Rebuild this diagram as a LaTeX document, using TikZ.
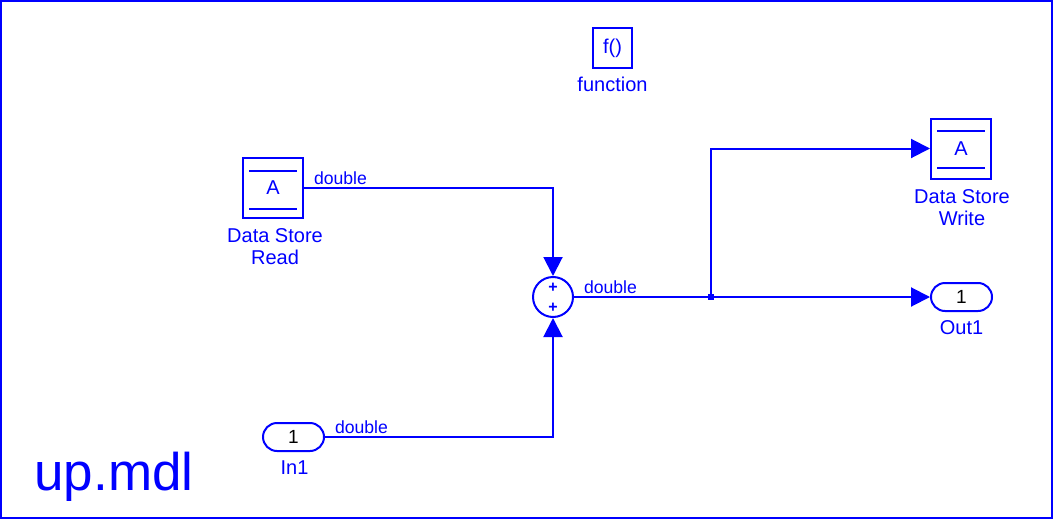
\documentclass[tikz,border=0pt]{standalone}
\usepackage{fontspec}
\setmainfont{Liberation Sans}
\usetikzlibrary{arrows.meta,positioning,shapes.misc,calc}
\definecolor{sblue}{RGB}{0,0,255}
\tikzset{
  blk/.style={rectangle, draw=sblue, line width=1pt, minimum width=30pt, minimum height=30pt, inner sep=0pt, font=\fontsize{10}{11}\selectfont, text=sblue},
  port/.style={rounded rectangle, draw=sblue, line width=1pt, minimum width=30.5pt, minimum height=14pt, inner sep=0pt, font=\fontsize{9.5}{10}\selectfont},
  sumblk/.style={circle, draw=sblue, line width=1pt, minimum size=20pt, inner sep=0pt},
  plus/.style={text=sblue, font=\fontsize{8}{8}\selectfont\bfseries, inner sep=0pt},
  blkname/.style={align=center, text=sblue, font=\fontsize{10}{11}\selectfont, inner sep=0pt},
  sig/.style={text=sblue, font=\fontsize{8.8}{10}\selectfont, anchor=south west, inner sep=1pt, xshift=3.5pt},
  wire/.style={draw=sblue, line width=1pt},
  arr/.style={-{Triangle[length=9.5pt,width=9.5pt]}, wire}
}
\begin{document}
\begin{tikzpicture}[x=0.5pt, y=-0.5pt]
\useasboundingbox (0,0) rectangle (1053,519);
\draw[wire] (1,1) rectangle (1052,518);

% blocks
\node[blk, minimum width=19.5pt, minimum height=20pt] (fcn) at (612.5,48) {f()};
\node[blkname, below=4pt of fcn] (fcnlbl) {function};

\node[blk] (dsr) at (273,187.5) {A};
\draw[wire] ($(dsr.north west)+(7,14)$) -- ($(dsr.north east)+(-7,14)$);
\draw[wire] ($(dsr.south west)+(7,-10)$) -- ($(dsr.south east)+(-7,-10)$);
\node[blkname, below=5pt of dsr, xshift=1pt] (dsrlbl) {Data Store\\Read};

\node[sumblk] (sum) at (553,297) {};
\node[plus] (plusa) at (553,288) {+};
\node[plus] (plusb) at (553,308) {+};

\node[blk] (dsw) at (961,148.5) {A};
\draw[wire] ($(dsw.north west)+(7,13)$) -- ($(dsw.north east)+(-7,13)$);
\draw[wire] ($(dsw.south west)+(7,-12)$) -- ($(dsw.south east)+(-7,-12)$);
\node[blkname, below=5pt of dsw, xshift=0.5pt] (dswlbl) {Data Store\\Write};

\node[port] (out) at (961.5,297) {1};
\node[blkname, below=4pt of out] (outlbl) {Out1};
\node[port] (in) at (293.5,437) {1};
\node[blkname, below=4pt of in, xshift=0.5pt] (inlbl) {In1};

\coordinate (jct) at (711,297);

% signals
\draw[arr] (dsr.east) node[sig]{double} -| (sum.north);
\draw[arr] (in.east) node[sig]{double} -| (sum.south);
\draw[wire] (sum.east) node[sig]{double} -- (jct);
\draw[arr] (jct) -- (out.west);
\draw[arr] (jct) |- (dsw.west);
\fill[sblue] ($(jct)+(-3,-3)$) rectangle ($(jct)+(3,3)$);

\node[text=sblue, font=\fontsize{26.5}{26.5}\selectfont, anchor=base west, inner sep=0pt] (title) at (34,490) {up.mdl};
\end{tikzpicture}
\end{document}
